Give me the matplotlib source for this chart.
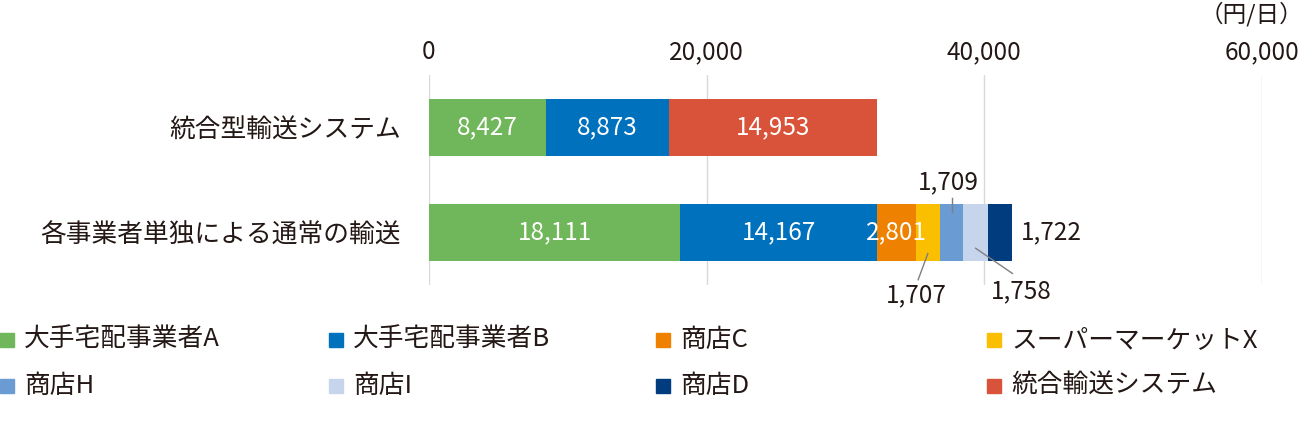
import numpy as np
import matplotlib.pyplot as plt
from matplotlib.patches import Rectangle

plt.rcParams['font.family'] = ['Noto Sans CJK JP', 'DejaVu Sans']

# データ
categories = ['統合型輸送システム', '各事業者単独による通常の輸送']
series = ['大手宅配事業者A', '大手宅配事業者B', '商店C', 'スーパーマーケットX',
          '商店H', '商店I', '商店D', '統合輸送システム']
values_top = [8427, 8873, 0, 0, 0, 0, 0, 14953]
values_bottom = [18111, 14167, 2801, 1707, 1709, 1758, 1722, 0]
colors = ['#70b65a', '#0071bd', '#ee8200', '#f9bf00',
          '#6a9bd2', '#c6d5ec', '#003c7e', '#d9533a']
xticks = [0, 20000, 40000, 60000]
xticklabels = ['0', '20,000', '40,000', '60,000']

txt = '#231815'

fig = plt.figure(figsize=(13.03, 4.24), dpi=100)
ax = fig.add_axes([429/1303, 1-285/424, (1262-429)/1303, 210/424])

data = np.array([values_top, values_bottom])
y = np.arange(len(categories))
left = np.zeros(len(categories))
bar_h = 0.55
centers = np.zeros_like(data, dtype=float)
for j in range(len(series)):
    ax.barh(y, data[:, j], left=left, height=bar_h, color=colors[j], zorder=2)
    centers[:, j] = left + data[:, j] / 2
    left = left + data[:, j]

# 棒の中の数値
for i in range(len(categories)):
    for j in range(len(series)):
        v = data[i, j]
        if v >= 2000:
            ax.text(centers[i, j], y[i], f'{v:,}', ha='center', va='center',
                    color='white', fontsize=17.5, zorder=3)

# 外側の数値と引出し線
lc = '#7f7f7f'
fs = 17.5
# 1,709 (商店H)
cx = centers[1, 4]
ax.plot([cx, cx], [0.67, 0.8], color=lc, lw=1, zorder=3)
ax.text(cx - 250, 0.52, f'{values_bottom[4]:,}', ha='center', va='center', color=txt, fontsize=fs)
# 1,707 (スーパーマーケットX)
cx = centers[1, 3]
ax.plot([cx, cx - 700], [1.2, 1.45], color=lc, lw=1, zorder=3, clip_on=False)
ax.text(cx - 800, 1.6, f'{values_bottom[3]:,}', ha='center', va='center', color=txt,
        fontsize=fs, clip_on=False)
# 1,758 (商店I)
cx = centers[1, 5]
ax.plot([cx, cx + 2650], [1.15, 1.39], color=lc, lw=1, zorder=3, clip_on=False)
ax.text(cx + 3300, 1.56, f'{values_bottom[5]:,}', ha='center', va='center', color=txt,
        fontsize=fs, clip_on=False)
# 1,722 (商店D)
ax.text(left[1] + 650, y[1], f'{values_bottom[6]:,}', ha='left', va='center', color=txt, fontsize=fs)

ax.set_xlim(0, 60000)
ax.set_ylim(1.5, -0.5)
ax.set_xticks(xticks)
ax.set_xticklabels(xticklabels)
ax.xaxis.tick_top()
ax.set_yticks(y)
ax.set_yticklabels(categories)
ax.tick_params(axis='x', length=0, pad=7, labelsize=17.5, labelcolor=txt)
ax.tick_params(axis='y', length=0, pad=20, labelsize=18.5, labelcolor=txt)
ax.grid(axis='x', color='#d9d9d9', lw=1, zorder=0)
ax.set_axisbelow(True)
for s in ax.spines.values():
    s.set_visible(False)

fig.text(1303/1303, 1-14/424, '（円/日）', ha='right', va='center', color=txt, fontsize=17)

# 凡例
leg_x = [0, 329, 656, 987]
leg_y = [340, 386]
for k, name in enumerate(series):
    px = leg_x[k % 4]
    py = leg_y[k // 4]
    fig.patches.append(Rectangle((px/1303, 1-(py+7)/424), 14/1303, 14/424,
                                 transform=fig.transFigure, color=colors[k], figure=fig))
    fig.text((px+24)/1303, 1-py/424, name, ha='left', va='center', color=txt, fontsize=18.5)

fig.savefig('out.png', dpi=100)
